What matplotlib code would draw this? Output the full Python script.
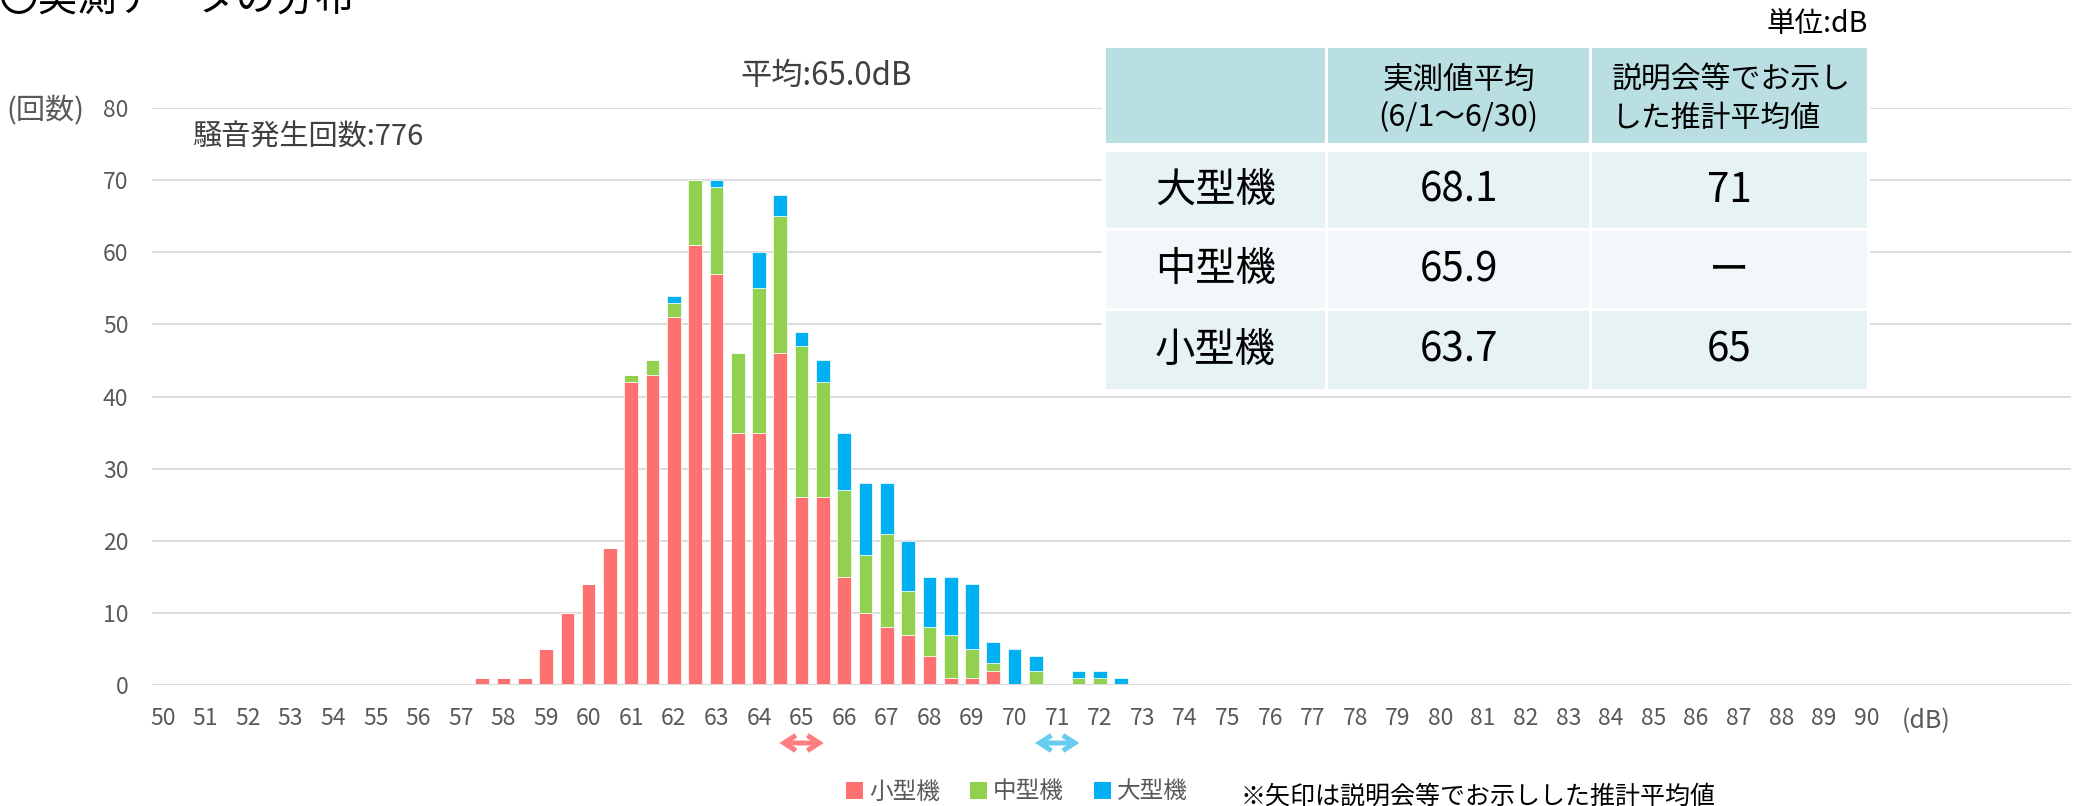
import matplotlib
matplotlib.use('Agg')
import matplotlib.pyplot as plt
from matplotlib.patches import Rectangle, FancyArrowPatch, Patch

plt.rcParams['font.family'] = ['Noto Sans CJK JP', 'DejaVu Sans']

# ---------------- data ----------------
db_levels = [57.5, 58.0, 58.5, 59.0, 59.5, 60.0, 60.5, 61.0, 61.5, 62.0, 62.5,
             63.0, 63.5, 64.0, 64.5, 65.0, 65.5, 66.0, 66.5, 67.0, 67.5, 68.0,
             68.5, 69.0, 69.5, 70.0, 70.5, 71.0, 71.5, 72.0, 72.5]
small = [1, 1, 1, 5, 10, 14, 19, 42, 43, 51, 61, 57, 35, 35, 46, 26, 26, 15, 10,
         8, 7, 4, 1, 1, 2, 0, 0, 0, 0, 0, 0]
medium = [0, 0, 0, 0, 0, 0, 0, 1, 2, 2, 9, 12, 11, 20, 19, 21, 16, 12, 8, 13, 6,
          4, 6, 4, 1, 0, 2, 0, 1, 1, 0]
large = [0, 0, 0, 0, 0, 0, 0, 0, 0, 1, 0, 1, 0, 5, 3, 2, 3, 8, 10, 7, 7, 7, 8, 9,
         3, 5, 2, 0, 1, 1, 1]
series_names = ['小型機', '中型機', '大型機']
x_tick_values = list(range(50, 91))
y_tick_values = [0, 10, 20, 30, 40, 50, 60, 70, 80]

table_col_headers = ['実測値平均', '(6/1〜6/30)']
table_col3_headers = ['説明会等でお示し', 'した推計平均値']
table_rows = ['大型機', '中型機', '小型機']
table_measured = ['68.1', '65.9', '63.7']
table_estimated = ['71', 'ー', '65']

arrow_values = [65, 71]          # 説明会等でお示しした推計平均値 (小型機, 大型機)

# ---------------- style ----------------
RED = '#FF7171'
GREEN = '#92D050'
BLUE = '#00B0F0'
GRID = '#D9D9D9'
TICK = '#595959'
arrow_colors = ['#FF7C80', '#66CCF0']

W, H = 2078, 806
fig = plt.figure(figsize=(W / 100, H / 100), dpi=100)


def fx(px):
    return px / W


def fy(py):
    return 1 - py / H


ax = fig.add_axes([fx(152), fy(685), (2071 - 152) / W, (685 - 108) / H])

bw = 0.32
bottom2 = [a for a in small]
bottom3 = [a + b for a, b in zip(small, medium)]
ax.bar(db_levels, small, width=bw, color=RED, edgecolor='white', linewidth=0.5, zorder=3)
ax.bar(db_levels, medium, width=bw, bottom=bottom2, color=GREEN, edgecolor='white',
       linewidth=0.5, zorder=3)
ax.bar(db_levels, large, width=bw, bottom=bottom3, color=BLUE, edgecolor='white',
       linewidth=0.5, zorder=3)

ax.set_xlim(49.75, 94.8)
ax.set_ylim(0, 80)
ax.set_xticks(x_tick_values)
ax.set_xticklabels([str(v) for v in x_tick_values])
ax.set_yticks(y_tick_values)
ax.grid(axis='y', color=GRID, linewidth=1.3, zorder=1)
ax.set_axisbelow(True)
ax.axhline(0, color=GRID, linewidth=2.2, zorder=4)
for s in ax.spines.values():
    s.set_visible(False)
ax.tick_params(axis='x', length=0, pad=16, labelsize=16.5, labelcolor=TICK)
ax.tick_params(axis='y', length=0, pad=17, labelsize=16.5, labelcolor=TICK)

# arrows for estimated averages
trans = ax.get_xaxis_transform()
y_arrow = (685 - 743) / (685 - 108)
for val, col in zip(arrow_values, arrow_colors):
    arr = FancyArrowPatch((val - 0.52, y_arrow), (val + 0.52, y_arrow), transform=trans,
                          arrowstyle='<->,head_length=0.85,head_width=0.55',
                          mutation_scale=10, linewidth=3.6, color=col,
                          clip_on=False, shrinkA=0, shrinkB=0,
                          joinstyle='miter', capstyle='butt')
    ax.add_patch(arr)

# texts
fig.text(-0.001, fy(12), '〇実測データの分布', fontsize=28.5, ha='left', va='baseline',
         color='black')
fig.text(fx(6), fy(111), '(回数)', fontsize=21, ha='left', va='center', color=TICK)
fig.text(fx(192), fy(138), '騒音発生回数:776', fontsize=21, ha='left', va='center',
         color='#404040')
fig.text(fx(826), fy(76), '平均:65.0dB', fontsize=22.5, ha='center', va='center',
         color='#404040')
fig.text(fx(1868), fy(24), '単位:dB', fontsize=20.5, ha='right', va='center',
         color='black')
fig.text(fx(1926), fy(721), '(dB)', fontsize=18, ha='center', va='center', color=TICK)
fig.text(fx(1240), fy(797), '※矢印は説明会等でお示しした推計平均値', fontsize=18,
         ha='left', va='center', color='black')

# table
fig.add_artist(Rectangle((fx(1102), fy(392)), (1870 - 1102) / W, (392 - 45) / H,
                         transform=fig.transFigure, facecolor='white',
                         edgecolor='none', zorder=5))
col_x = [(1106, 1325), (1328, 1589), (1592, 1867)]
row_y = [(48, 143), (152, 228), (231, 308), (311, 389)]
row_colors = ['#B9DFE3', '#E6F2F4', '#F2F7F9', '#E6F2F4']
for (y0, y1), rc in zip(row_y, row_colors):
    for (x0, x1) in col_x:
        fig.add_artist(Rectangle((fx(x0), fy(y1)), (x1 - x0) / W, (y1 - y0) / H,
                                 transform=fig.transFigure, facecolor=rc,
                                 edgecolor='none', zorder=6))

c2 = (col_x[1][0] + col_x[1][1]) / 2
fig.text(fx(c2), fy(80), table_col_headers[0], fontsize=22, ha='center', va='center',
         zorder=7)
fig.text(fx(c2), fy(118), table_col_headers[1], fontsize=22, ha='center', va='center',
         zorder=7)
fig.text(fx(1612), fy(80), table_col3_headers[0], fontsize=21.5, ha='left', va='center',
         zorder=7)
fig.text(fx(1612), fy(118), table_col3_headers[1], fontsize=21.5, ha='left', va='center',
         zorder=7)

for i, (name, m, e) in enumerate(zip(table_rows, table_measured, table_estimated)):
    y0, y1 = row_y[i + 1]
    yc = (y0 + y1) / 2
    for (x0, x1), txt in zip(col_x, [name, m, e]):
        fig.text(fx((x0 + x1) / 2), fy(yc), txt, fontsize=29, ha='center', va='center',
                 zorder=7)

# legend
handles = [Patch(facecolor=c, edgecolor='none') for c in [RED, GREEN, BLUE]]
fig.legend(handles, series_names, loc='center', bbox_to_anchor=(fx(1017), fy(792)),
           ncol=3, frameon=False, fontsize=17, handlelength=0.7, handleheight=0.7,
           handletextpad=0.25, columnspacing=1.3, labelcolor=TICK, borderpad=0)

fig.savefig('out.png', dpi=100)
